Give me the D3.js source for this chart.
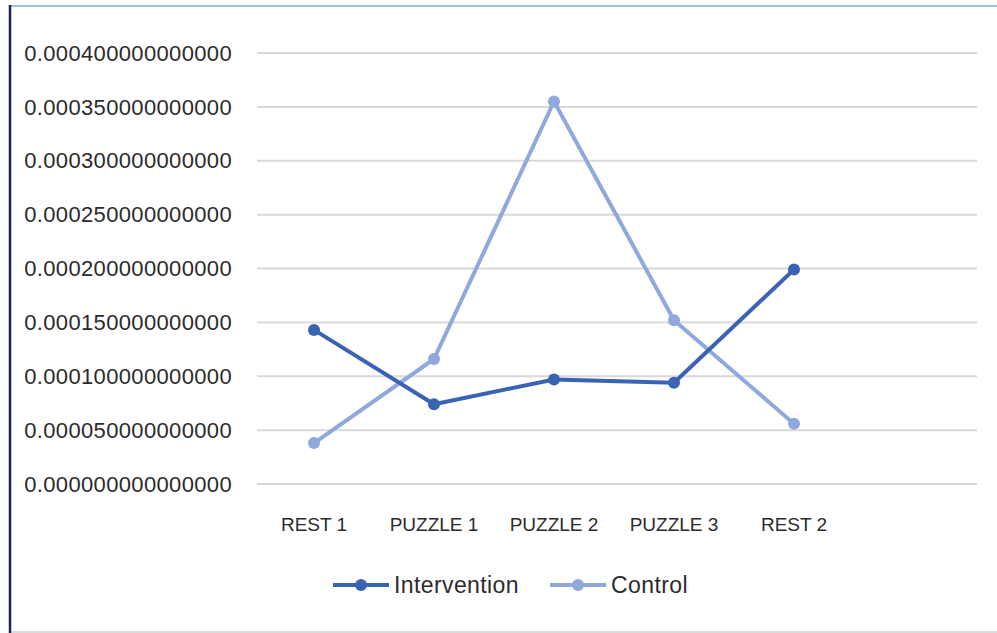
<!DOCTYPE html>
<html>
<head>
<meta charset="utf-8">
<script src="https://cdn.jsdelivr.net/npm/d3@7"></script>
<style>
  body { margin: 0; background: #fff; }
  text { font-family: "Liberation Sans", Arial, sans-serif; fill: #2b2b2b; }
</style>
</head>
<body>
<div id="chart"></div>
<script>
// data
var categories = ["REST 1", "PUZZLE 1", "PUZZLE 2", "PUZZLE 3", "REST 2"];
var intervention = [0.000143, 0.000074, 0.000097, 0.000094, 0.000199];
var control = [0.000038, 0.000116, 0.000355, 0.000152, 0.000056];
var seriesNames = ["Intervention", "Control"];
var seriesColors = ["#3b63b3", "#8fa9dc"];

var w = 997, h = 633;

var svg = d3.select("#chart")
  .append("svg")
  .attr("width", w)
  .attr("height", h);

// frame
svg.append("line").attr("x1", 10).attr("x2", w).attr("y1", 6).attr("y2", 6)
  .attr("stroke", "#a3bde0").attr("stroke-width", 2);
svg.append("line").attr("x1", 10).attr("x2", w).attr("y1", 632).attr("y2", 632)
  .attr("stroke", "#d0d0d0").attr("stroke-width", 1.5);
svg.append("line").attr("x1", 10).attr("x2", 10).attr("y1", 5).attr("y2", h)
  .attr("stroke", "#1c2750").attr("stroke-width", 2.5);

var x = d3.scalePoint().domain(categories).range([314, 794]);
var y = d3.scaleLinear().domain([0, 0.0004]).range([484, 53]);

var gridLeft = 257, gridRight = 977;

// gridlines + y labels
var yAxis = svg.append("g");
yAxis.selectAll("line")
  .data(y.ticks(8))
  .enter()
  .append("line")
    .attr("x1", gridLeft).attr("x2", gridRight)
    .attr("y1", d => y(d)).attr("y2", d => y(d))
    .attr("stroke", "#d9d9d9").attr("stroke-width", 2);
yAxis.selectAll("text")
  .data(y.ticks(8))
  .enter()
  .append("text")
    .attr("x", 232)
    .attr("y", d => y(d))
    .attr("dy", "0.35em")
    .attr("text-anchor", "end")
    .attr("font-size", 22)
    .attr("letter-spacing", 0.35)
    .text(d => d3.format(".15f")(d));

// x labels
svg.append("g").selectAll("text")
  .data(categories)
  .enter()
  .append("text")
    .attr("x", d => x(d))
    .attr("y", 524)
    .attr("dy", "0.35em")
    .attr("text-anchor", "middle")
    .attr("font-size", 19)
    .text(d => d);

var line = d3.line()
  .x((d, i) => x(categories[i]))
  .y(d => y(d));

// control under intervention
var series = [control, intervention];
var colors = [seriesColors[1], seriesColors[0]];

series.forEach(function(vals, k) {
  var g = svg.append("g");
  g.append("path")
    .datum(vals)
    .attr("fill", "none")
    .attr("stroke", colors[k])
    .attr("stroke-width", 4)
    .attr("stroke-linejoin", "round")
    .attr("d", line);
  g.selectAll("circle")
    .data(vals)
    .enter()
    .append("circle")
      .attr("cx", (d, i) => x(categories[i]))
      .attr("cy", d => y(d))
      .attr("r", 6)
      .attr("fill", colors[k]);
});

// legend
var legendX = [333, 550];
var legend = svg.append("g");
seriesNames.forEach(function(name, i) {
  var lg = legend.append("g").attr("transform", `translate(${legendX[i]},585)`);
  lg.append("line").attr("x1", 0).attr("x2", 56).attr("y1", 0).attr("y2", 0)
    .attr("stroke", seriesColors[i]).attr("stroke-width", 4);
  lg.append("circle").attr("cx", 28).attr("cy", 0).attr("r", 6).attr("fill", seriesColors[i]);
  lg.append("text").attr("x", 61).attr("y", 0).attr("dy", "0.35em")
    .attr("font-size", 23)
    .attr("letter-spacing", 0.4)
    .text(name);
});
</script>
</body>
</html>
